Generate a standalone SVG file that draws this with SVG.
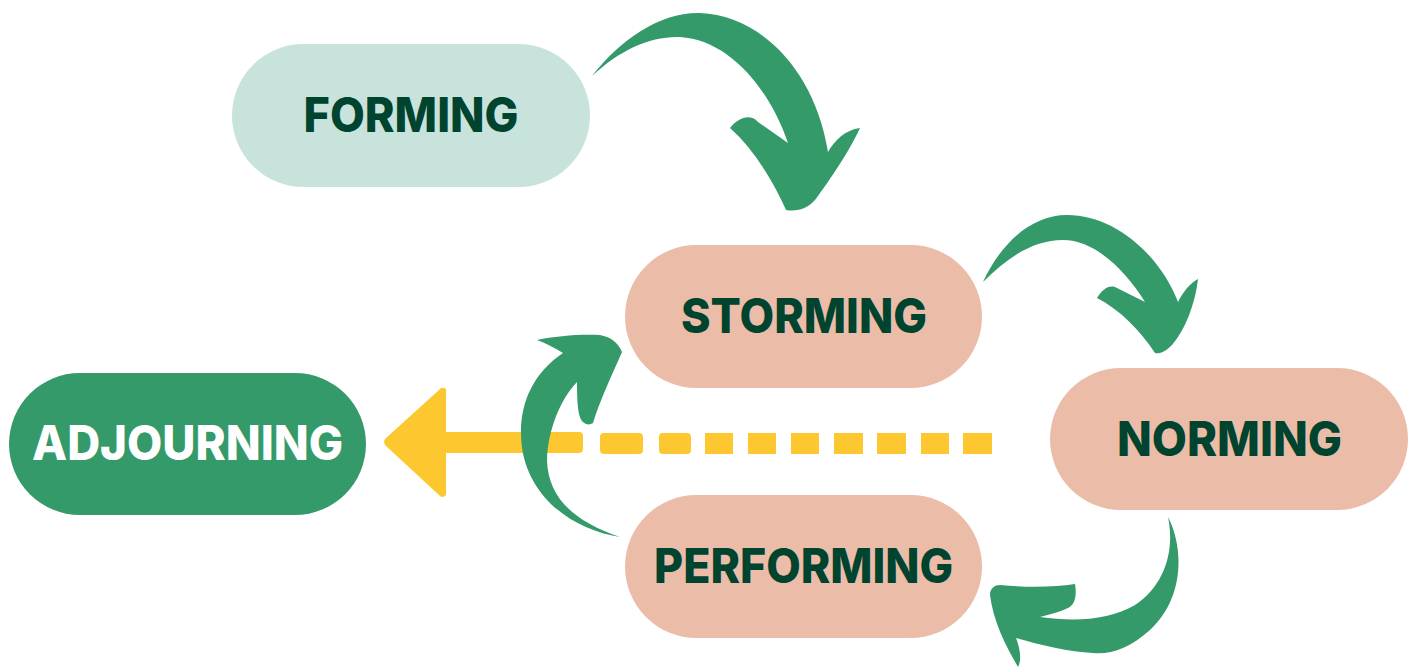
<svg xmlns="http://www.w3.org/2000/svg" width="1411" height="669" viewBox="0 0 1411 669">
<style>
.lbl{font-family:"Inter","Lato","Liberation Sans",sans-serif;font-weight:800;font-size:48px;text-anchor:middle}
.dark{fill:#00432f}
.light{fill:#ffffff}
.arr{fill:#359a69}
.yel{fill:#fdc82f}
</style>
<rect width="1411" height="669" fill="#ffffff"/>
<g id="connectors">
  <g id="adjourn-arrow">
    <path class="yel" d="M446,389 Q442,386 439,390 L386,438 Q382,442 386,446 L439,495 Q442,499 446,495 Z"/>
    <path class="yel" d="M440,432 L579,432 Q583,432 583,436 L583,449 Q583,453 579,453 L440,453 Z"/>
    <rect class="yel" x="600" y="433" width="43" height="21" rx="4"/>
    <rect class="yel" x="659" y="433" width="32" height="21" rx="4"/>
    <rect class="yel" x="705" y="433" width="28" height="21"/>
    <rect class="yel" x="748" y="433" width="28" height="21"/>
    <rect class="yel" x="791" y="433" width="28" height="21"/>
    <rect class="yel" x="834" y="433" width="29" height="21"/>
    <rect class="yel" x="877" y="433" width="29" height="21"/>
    <rect class="yel" x="921" y="433" width="28" height="21"/>
    <rect class="yel" x="963" y="433" width="29" height="21"/>
  </g>
  <path id="arrow-forming-storming" class="arr" d="M592,76 C620,40 660,12 700,13 C760,15 815,70 828,152 C835,140 845,130 860,128 C850,150 830,180 815,200 C808,208 798,212 786,210 C775,185 755,150 730,128 C738,118 750,113 758,122 L788,143 C770,90 730,40 680,37 C650,36 620,50 592,76 Z"/>
  <path id="arrow-storming-norming" class="arr" d="M983,282 C1000,245 1030,215 1067,215 C1115,215 1160,255 1178,302 C1183,292 1190,283 1198,279 C1195,305 1185,330 1172,345 C1165,352 1160,354 1155,353 C1140,330 1120,310 1097,298 C1102,290 1108,285 1115,287 L1145,302 C1125,270 1095,240 1063,240 C1035,240 1010,255 983,282 Z"/>
  <path id="arrow-norming-performing" class="arr" d="M1168,517 C1185,550 1183,600 1150,630 C1130,648 1110,655 1093,653 C1070,652 1040,645 1016,638 C1020,648 1022,660 1018,667 C1005,645 993,620 990,595 C990,588 995,585 1000,585 C1030,588 1055,587 1075,584 C1077,595 1075,605 1068,608 C1060,612 1050,614 1040,617 C1075,622 1110,620 1135,605 C1165,585 1175,550 1168,517 Z"/>
  <path id="arrow-performing-storming" class="arr" d="M620,537 C575,530 530,500 522,448 C517,410 530,375 563,353 C555,348 545,343 537,340 C555,336 580,334 600,335 C610,337 618,342 622,352 C612,375 600,400 593,423 C590,425 586,425 583,422 C579,418 577,410 577,382 C560,400 548,430 547,460 C548,495 570,520 620,537 Z"/>
</g>
<g id="node-forming">
  <rect x="232" y="44" width="358" height="143" rx="71.5" fill="#c8e3dc"/>
  <text class="lbl dark" x="411" y="132" textLength="215" lengthAdjust="spacingAndGlyphs">FORMING</text>
</g>
<g id="node-storming">
  <rect x="625" y="245" width="357" height="143" rx="71.5" fill="#ebbca8"/>
  <text class="lbl dark" x="804" y="333" textLength="246" lengthAdjust="spacingAndGlyphs">STORMING</text>
</g>
<g id="node-norming">
  <rect x="1050" y="368" width="358" height="142" rx="71" fill="#ebbca8"/>
  <text class="lbl dark" x="1229.5" y="456" textLength="225" lengthAdjust="spacingAndGlyphs">NORMING</text>
</g>
<g id="node-performing">
  <rect x="625" y="495" width="357" height="143" rx="71.5" fill="#ebbca8"/>
  <text class="lbl dark" x="803.5" y="583" textLength="299" lengthAdjust="spacingAndGlyphs">PERFORMING</text>
</g>
<g id="node-adjourning">
  <rect x="9" y="373" width="357" height="142" rx="71" fill="#359a69"/>
  <text class="lbl light" x="187.5" y="460" textLength="311" lengthAdjust="spacingAndGlyphs">ADJOURNING</text>
</g>
</svg>
